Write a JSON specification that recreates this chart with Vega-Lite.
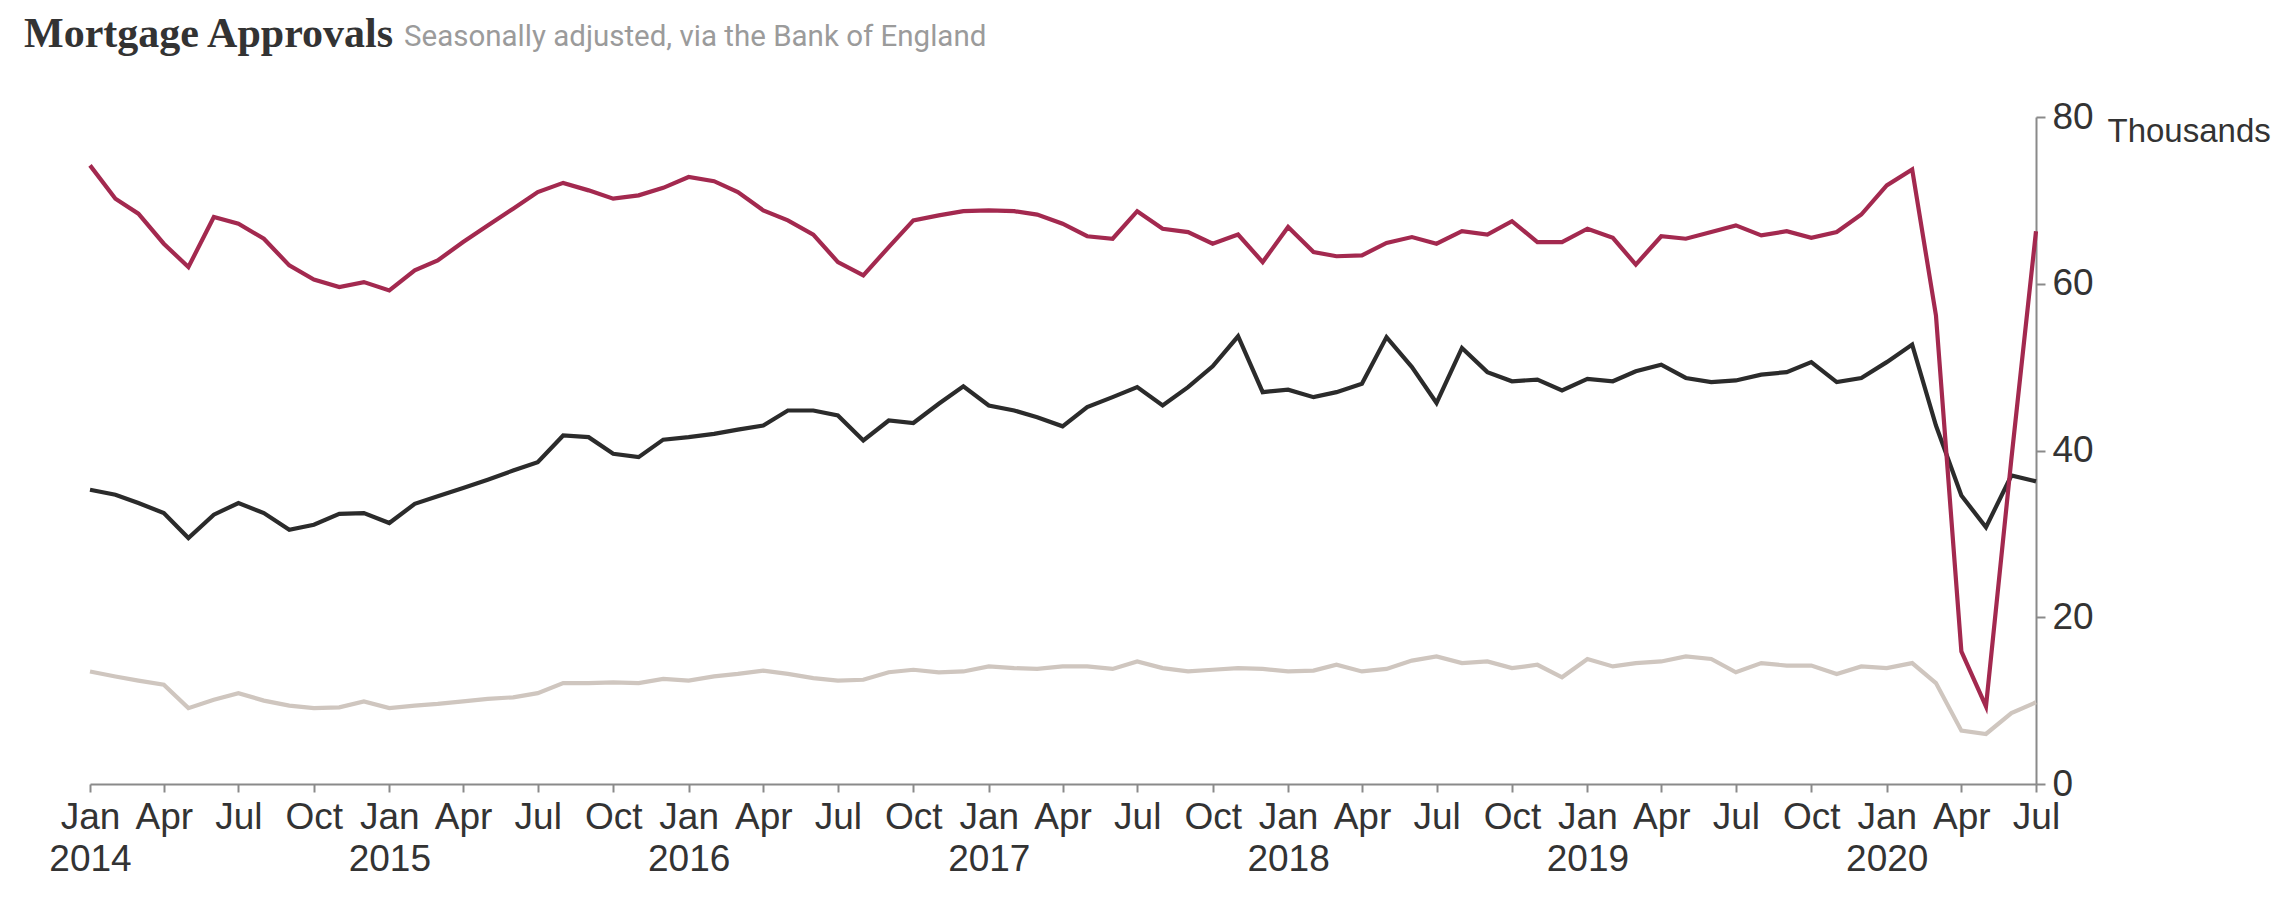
{
  "$schema": "https://vega.github.io/schema/vega-lite/v6.json",
  "width": 1946,
  "height": 667,
  "autosize": {"type": "none"},
  "padding": {"left": 90, "top": 117, "right": 256, "bottom": 118},
  "background": "white",
  "title": {
    "text": "Mortgage Approvals",
    "subtitle": "Seasonally adjusted, via the Bank of England",
    "anchor": "start",
    "frame": "group",
    "font": "Liberation Serif",
    "fontSize": 42,
    "fontWeight": "bold",
    "color": "#333333",
    "subtitleFont": "Roboto",
    "subtitleFontSize": 29.5,
    "subtitleFontWeight": "normal",
    "subtitleColor": "#9b9b9b",
    "subtitlePadding": -33,
    "dx": 314,
    "encoding": {"dx": {"value": -66}},
    "offset": 42
  },
  "data": {
    "values": [
      {"date":"2014-01-01","series":"Other","value":13.5},{"date":"2014-02-01","series":"Other","value":12.9},{"date":"2014-03-01","series":"Other","value":12.4},{"date":"2014-04-01","series":"Other","value":11.9},{"date":"2014-05-01","series":"Other","value":9.1},{"date":"2014-06-01","series":"Other","value":10.1},{"date":"2014-07-01","series":"Other","value":10.9},{"date":"2014-08-01","series":"Other","value":10.0},{"date":"2014-09-01","series":"Other","value":9.4},{"date":"2014-10-01","series":"Other","value":9.1},{"date":"2014-11-01","series":"Other","value":9.2},{"date":"2014-12-01","series":"Other","value":9.9},
      {"date":"2015-01-01","series":"Other","value":9.1},{"date":"2015-02-01","series":"Other","value":9.4},{"date":"2015-03-01","series":"Other","value":9.6},{"date":"2015-04-01","series":"Other","value":9.9},{"date":"2015-05-01","series":"Other","value":10.2},{"date":"2015-06-01","series":"Other","value":10.4},{"date":"2015-07-01","series":"Other","value":10.9},{"date":"2015-08-01","series":"Other","value":12.1},{"date":"2015-09-01","series":"Other","value":12.1},{"date":"2015-10-01","series":"Other","value":12.2},{"date":"2015-11-01","series":"Other","value":12.1},{"date":"2015-12-01","series":"Other","value":12.6},
      {"date":"2016-01-01","series":"Other","value":12.4},{"date":"2016-02-01","series":"Other","value":12.9},{"date":"2016-03-01","series":"Other","value":13.2},{"date":"2016-04-01","series":"Other","value":13.6},{"date":"2016-05-01","series":"Other","value":13.2},{"date":"2016-06-01","series":"Other","value":12.7},{"date":"2016-07-01","series":"Other","value":12.4},{"date":"2016-08-01","series":"Other","value":12.5},{"date":"2016-09-01","series":"Other","value":13.4},{"date":"2016-10-01","series":"Other","value":13.7},{"date":"2016-11-01","series":"Other","value":13.4},{"date":"2016-12-01","series":"Other","value":13.5},
      {"date":"2017-01-01","series":"Other","value":14.1},{"date":"2017-02-01","series":"Other","value":13.9},{"date":"2017-03-01","series":"Other","value":13.8},{"date":"2017-04-01","series":"Other","value":14.1},{"date":"2017-05-01","series":"Other","value":14.1},{"date":"2017-06-01","series":"Other","value":13.8},{"date":"2017-07-01","series":"Other","value":14.7},{"date":"2017-08-01","series":"Other","value":13.9},{"date":"2017-09-01","series":"Other","value":13.5},{"date":"2017-10-01","series":"Other","value":13.7},{"date":"2017-11-01","series":"Other","value":13.9},{"date":"2017-12-01","series":"Other","value":13.8},
      {"date":"2018-01-01","series":"Other","value":13.5},{"date":"2018-02-01","series":"Other","value":13.6},{"date":"2018-03-01","series":"Other","value":14.3},{"date":"2018-04-01","series":"Other","value":13.5},{"date":"2018-05-01","series":"Other","value":13.8},{"date":"2018-06-01","series":"Other","value":14.8},{"date":"2018-07-01","series":"Other","value":15.3},{"date":"2018-08-01","series":"Other","value":14.5},{"date":"2018-09-01","series":"Other","value":14.7},{"date":"2018-10-01","series":"Other","value":13.9},{"date":"2018-11-01","series":"Other","value":14.3},{"date":"2018-12-01","series":"Other","value":12.8},
      {"date":"2019-01-01","series":"Other","value":15.0},{"date":"2019-02-01","series":"Other","value":14.1},{"date":"2019-03-01","series":"Other","value":14.5},{"date":"2019-04-01","series":"Other","value":14.7},{"date":"2019-05-01","series":"Other","value":15.3},{"date":"2019-06-01","series":"Other","value":15.0},{"date":"2019-07-01","series":"Other","value":13.4},{"date":"2019-08-01","series":"Other","value":14.5},{"date":"2019-09-01","series":"Other","value":14.2},{"date":"2019-10-01","series":"Other","value":14.2},{"date":"2019-11-01","series":"Other","value":13.2},{"date":"2019-12-01","series":"Other","value":14.1},
      {"date":"2020-01-01","series":"Other","value":13.9},{"date":"2020-02-01","series":"Other","value":14.5},{"date":"2020-03-01","series":"Other","value":12.1},{"date":"2020-04-01","series":"Other","value":6.4},{"date":"2020-05-01","series":"Other","value":6.0},{"date":"2020-06-01","series":"Other","value":8.5},{"date":"2020-07-01","series":"Other","value":9.8},

      {"date":"2014-01-01","series":"Remortgaging","value":35.3},{"date":"2014-02-01","series":"Remortgaging","value":34.7},{"date":"2014-03-01","series":"Remortgaging","value":33.7},{"date":"2014-04-01","series":"Remortgaging","value":32.5},{"date":"2014-05-01","series":"Remortgaging","value":29.5},{"date":"2014-06-01","series":"Remortgaging","value":32.3},{"date":"2014-07-01","series":"Remortgaging","value":33.7},{"date":"2014-08-01","series":"Remortgaging","value":32.5},{"date":"2014-09-01","series":"Remortgaging","value":30.5},{"date":"2014-10-01","series":"Remortgaging","value":31.1},{"date":"2014-11-01","series":"Remortgaging","value":32.4},{"date":"2014-12-01","series":"Remortgaging","value":32.5},
      {"date":"2015-01-01","series":"Remortgaging","value":31.3},{"date":"2015-02-01","series":"Remortgaging","value":33.6},{"date":"2015-03-01","series":"Remortgaging","value":34.5},{"date":"2015-04-01","series":"Remortgaging","value":35.5},{"date":"2015-05-01","series":"Remortgaging","value":36.5},{"date":"2015-06-01","series":"Remortgaging","value":37.6},{"date":"2015-07-01","series":"Remortgaging","value":38.6},{"date":"2015-08-01","series":"Remortgaging","value":41.8},{"date":"2015-09-01","series":"Remortgaging","value":41.6},{"date":"2015-10-01","series":"Remortgaging","value":39.6},{"date":"2015-11-01","series":"Remortgaging","value":39.2},{"date":"2015-12-01","series":"Remortgaging","value":41.3},
      {"date":"2016-01-01","series":"Remortgaging","value":41.6},{"date":"2016-02-01","series":"Remortgaging","value":42.0},{"date":"2016-03-01","series":"Remortgaging","value":42.5},{"date":"2016-04-01","series":"Remortgaging","value":43.0},{"date":"2016-05-01","series":"Remortgaging","value":44.8},{"date":"2016-06-01","series":"Remortgaging","value":44.8},{"date":"2016-07-01","series":"Remortgaging","value":44.2},{"date":"2016-08-01","series":"Remortgaging","value":41.2},{"date":"2016-09-01","series":"Remortgaging","value":43.6},{"date":"2016-10-01","series":"Remortgaging","value":43.3},{"date":"2016-11-01","series":"Remortgaging","value":45.6},{"date":"2016-12-01","series":"Remortgaging","value":47.7},
      {"date":"2017-01-01","series":"Remortgaging","value":45.4},{"date":"2017-02-01","series":"Remortgaging","value":44.8},{"date":"2017-03-01","series":"Remortgaging","value":44.0},{"date":"2017-04-01","series":"Remortgaging","value":42.9},{"date":"2017-05-01","series":"Remortgaging","value":45.2},{"date":"2017-06-01","series":"Remortgaging","value":46.4},{"date":"2017-07-01","series":"Remortgaging","value":47.6},{"date":"2017-08-01","series":"Remortgaging","value":45.4},{"date":"2017-09-01","series":"Remortgaging","value":47.6},{"date":"2017-10-01","series":"Remortgaging","value":50.1},{"date":"2017-11-01","series":"Remortgaging","value":53.7},{"date":"2017-12-01","series":"Remortgaging","value":47.0},
      {"date":"2018-01-01","series":"Remortgaging","value":47.3},{"date":"2018-02-01","series":"Remortgaging","value":46.4},{"date":"2018-03-01","series":"Remortgaging","value":47.0},{"date":"2018-04-01","series":"Remortgaging","value":48.0},{"date":"2018-05-01","series":"Remortgaging","value":53.6},{"date":"2018-06-01","series":"Remortgaging","value":50.0},{"date":"2018-07-01","series":"Remortgaging","value":45.7},{"date":"2018-08-01","series":"Remortgaging","value":52.3},{"date":"2018-09-01","series":"Remortgaging","value":49.4},{"date":"2018-10-01","series":"Remortgaging","value":48.3},{"date":"2018-11-01","series":"Remortgaging","value":48.5},{"date":"2018-12-01","series":"Remortgaging","value":47.2},
      {"date":"2019-01-01","series":"Remortgaging","value":48.6},{"date":"2019-02-01","series":"Remortgaging","value":48.3},{"date":"2019-03-01","series":"Remortgaging","value":49.5},{"date":"2019-04-01","series":"Remortgaging","value":50.3},{"date":"2019-05-01","series":"Remortgaging","value":48.7},{"date":"2019-06-01","series":"Remortgaging","value":48.2},{"date":"2019-07-01","series":"Remortgaging","value":48.4},{"date":"2019-08-01","series":"Remortgaging","value":49.1},{"date":"2019-09-01","series":"Remortgaging","value":49.4},{"date":"2019-10-01","series":"Remortgaging","value":50.6},{"date":"2019-11-01","series":"Remortgaging","value":48.2},{"date":"2019-12-01","series":"Remortgaging","value":48.7},
      {"date":"2020-01-01","series":"Remortgaging","value":50.6},{"date":"2020-02-01","series":"Remortgaging","value":52.7},{"date":"2020-03-01","series":"Remortgaging","value":43.0},{"date":"2020-04-01","series":"Remortgaging","value":34.6},{"date":"2020-05-01","series":"Remortgaging","value":30.8},{"date":"2020-06-01","series":"Remortgaging","value":37.0},{"date":"2020-07-01","series":"Remortgaging","value":36.3},

      {"date":"2014-01-01","series":"House purchase","value":74.2},{"date":"2014-02-01","series":"House purchase","value":70.2},{"date":"2014-03-01","series":"House purchase","value":68.4},{"date":"2014-04-01","series":"House purchase","value":64.8},{"date":"2014-05-01","series":"House purchase","value":62.0},{"date":"2014-06-01","series":"House purchase","value":68.0},{"date":"2014-07-01","series":"House purchase","value":67.2},{"date":"2014-08-01","series":"House purchase","value":65.4},{"date":"2014-09-01","series":"House purchase","value":62.2},{"date":"2014-10-01","series":"House purchase","value":60.5},{"date":"2014-11-01","series":"House purchase","value":59.6},{"date":"2014-12-01","series":"House purchase","value":60.2},
      {"date":"2015-01-01","series":"House purchase","value":59.2},{"date":"2015-02-01","series":"House purchase","value":61.6},{"date":"2015-03-01","series":"House purchase","value":62.8},{"date":"2015-04-01","series":"House purchase","value":65.0},{"date":"2015-05-01","series":"House purchase","value":67.0},{"date":"2015-06-01","series":"House purchase","value":69.0},{"date":"2015-07-01","series":"House purchase","value":71.0},{"date":"2015-08-01","series":"House purchase","value":72.1},{"date":"2015-09-01","series":"House purchase","value":71.2},{"date":"2015-10-01","series":"House purchase","value":70.2},{"date":"2015-11-01","series":"House purchase","value":70.6},{"date":"2015-12-01","series":"House purchase","value":71.5},
      {"date":"2016-01-01","series":"House purchase","value":72.8},{"date":"2016-02-01","series":"House purchase","value":72.3},{"date":"2016-03-01","series":"House purchase","value":71.0},{"date":"2016-04-01","series":"House purchase","value":68.8},{"date":"2016-05-01","series":"House purchase","value":67.6},{"date":"2016-06-01","series":"House purchase","value":65.9},{"date":"2016-07-01","series":"House purchase","value":62.6},{"date":"2016-08-01","series":"House purchase","value":61.0},{"date":"2016-09-01","series":"House purchase","value":64.4},{"date":"2016-10-01","series":"House purchase","value":67.6},{"date":"2016-11-01","series":"House purchase","value":68.2},{"date":"2016-12-01","series":"House purchase","value":68.7},
      {"date":"2017-01-01","series":"House purchase","value":68.8},{"date":"2017-02-01","series":"House purchase","value":68.7},{"date":"2017-03-01","series":"House purchase","value":68.3},{"date":"2017-04-01","series":"House purchase","value":67.2},{"date":"2017-05-01","series":"House purchase","value":65.7},{"date":"2017-06-01","series":"House purchase","value":65.4},{"date":"2017-07-01","series":"House purchase","value":68.7},{"date":"2017-08-01","series":"House purchase","value":66.6},{"date":"2017-09-01","series":"House purchase","value":66.2},{"date":"2017-10-01","series":"House purchase","value":64.8},{"date":"2017-11-01","series":"House purchase","value":65.9},{"date":"2017-12-01","series":"House purchase","value":62.6},
      {"date":"2018-01-01","series":"House purchase","value":66.8},{"date":"2018-02-01","series":"House purchase","value":63.8},{"date":"2018-03-01","series":"House purchase","value":63.3},{"date":"2018-04-01","series":"House purchase","value":63.4},{"date":"2018-05-01","series":"House purchase","value":64.9},{"date":"2018-06-01","series":"House purchase","value":65.6},{"date":"2018-07-01","series":"House purchase","value":64.8},{"date":"2018-08-01","series":"House purchase","value":66.3},{"date":"2018-09-01","series":"House purchase","value":65.9},{"date":"2018-10-01","series":"House purchase","value":67.5},{"date":"2018-11-01","series":"House purchase","value":65.0},{"date":"2018-12-01","series":"House purchase","value":65.0},
      {"date":"2019-01-01","series":"House purchase","value":66.6},{"date":"2019-02-01","series":"House purchase","value":65.5},{"date":"2019-03-01","series":"House purchase","value":62.3},{"date":"2019-04-01","series":"House purchase","value":65.7},{"date":"2019-05-01","series":"House purchase","value":65.4},{"date":"2019-06-01","series":"House purchase","value":66.2},{"date":"2019-07-01","series":"House purchase","value":67.0},{"date":"2019-08-01","series":"House purchase","value":65.8},{"date":"2019-09-01","series":"House purchase","value":66.3},{"date":"2019-10-01","series":"House purchase","value":65.5},{"date":"2019-11-01","series":"House purchase","value":66.2},{"date":"2019-12-01","series":"House purchase","value":68.3},
      {"date":"2020-01-01","series":"House purchase","value":71.8},{"date":"2020-02-01","series":"House purchase","value":73.7},{"date":"2020-03-01","series":"House purchase","value":56.2},{"date":"2020-04-01","series":"House purchase","value":15.9},{"date":"2020-05-01","series":"House purchase","value":9.3},{"date":"2020-06-01","series":"House purchase","value":39.0},{"date":"2020-07-01","series":"House purchase","value":66.3}
    ]
  },
  "mark": {"type": "line", "strokeWidth": 4.2},
  "encoding": {
    "x": {
      "field": "date",
      "type": "temporal",
      "scale": {
        "type": "utc",
        "nice": false,
        "domain": [
          {"year": 2014, "month": 1, "date": 1, "utc": true},
          {"year": 2020, "month": 7, "date": 1, "utc": true}
        ]
      },
      "axis": {
        "title": null,
        "grid": false,
        "tickCount": {"interval": "month", "step": 3},
        "labelExpr": "utcmonth(datum.value) === 0 ? [utcFormat(datum.value, '%b'), utcFormat(datum.value, '%Y')] : utcFormat(datum.value, '%b')",
        "labelFont": "Liberation Sans",
        "labelFontSize": 37,
        "labelColor": "#333333",
        "labelLineHeight": 42,
        "labelPadding": 7,
        "labelOverlap": false,
        "labelFlush": false,
        "labelBound": false,
        "domainColor": "#8a8a8a",
        "domainWidth": 2,
        "tickColor": "#8a8a8a",
        "tickWidth": 2,
        "tickSize": 8
      }
    },
    "y": {
      "field": "value",
      "type": "quantitative",
      "scale": {"domain": [0, 80], "nice": false},
      "axis": {
        "orient": "right",
        "values": [0, 20, 40, 60, 80],
        "grid": false,
        "title": "Thousands",
        "titleAngle": 0,
        "titleAlign": "left",
        "titleBaseline": "alphabetic",
        "titleX": 71,
        "titleY": 24,
        "titleFont": "Liberation Sans",
        "titleFontSize": 33,
        "titleFontWeight": "normal",
        "titleColor": "#333333",
        "labelFont": "Liberation Sans",
        "labelFontSize": 37,
        "labelColor": "#333333",
        "labelPadding": 7,
        "domainColor": "#8a8a8a",
        "domainWidth": 2,
        "tickColor": "#8a8a8a",
        "tickWidth": 2,
        "tickSize": 9
      }
    },
    "color": {
      "field": "series",
      "type": "nominal",
      "scale": {
        "domain": ["Other", "Remortgaging", "House purchase"],
        "range": ["#cfc6bf", "#2b2b2b", "#a3294f"]
      },
      "legend": null
    }
  },
  "config": {
    "view": {"stroke": null},
    "font": "Liberation Sans"
  }
}
